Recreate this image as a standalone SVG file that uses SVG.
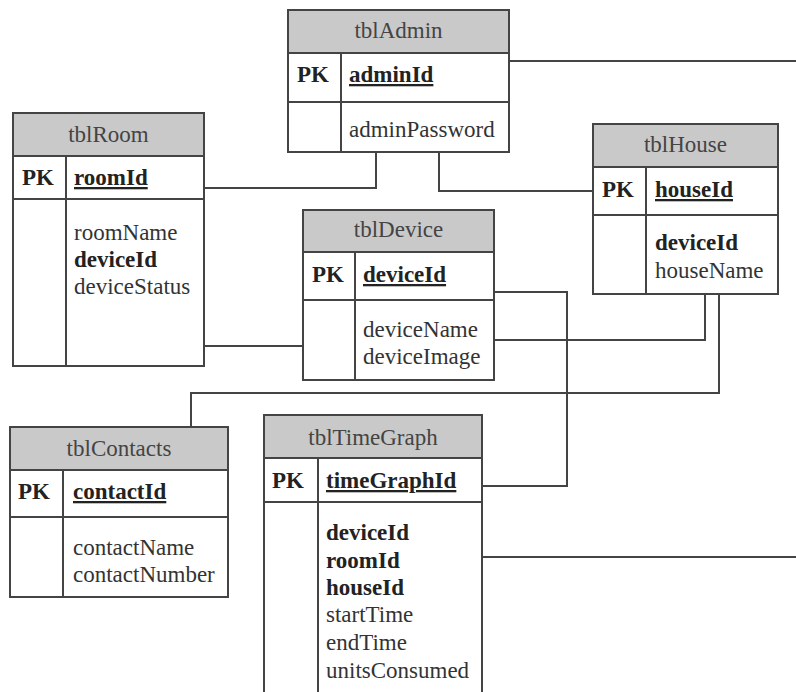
<svg xmlns="http://www.w3.org/2000/svg" width="796" height="692" viewBox="0 0 796 692">
<style>
.box{fill:#fff;stroke:#444;stroke-width:2}
.hdr{fill:#c9c9c9;stroke:#444;stroke-width:2}
.ln{stroke:#444;stroke-width:2;fill:none}
text{font-family:"Liberation Serif","Times New Roman",serif;font-size:23px;fill:#333}
.t{text-anchor:middle;fill:#444}
.b{font-weight:bold;fill:#222}
.u{font-weight:bold;fill:#222;text-decoration:underline}
</style>
<rect width="796" height="692" fill="#fff"/>
<g id="connectors">
<path class="ln" d="M503,61 H796"/>
<path class="ln" d="M376,152 V188 H204"/>
<path class="ln" d="M439,152 V191 H593"/>
<path class="ln" d="M204,346 H303"/>
<path class="ln" d="M494,292 H567 V486 H482"/>
<path class="ln" d="M705,294 V340 H494"/>
<path class="ln" d="M719,294 V393 H191 V427"/>
<path class="ln" d="M482,557 H796"/>
</g>
<g id="tblAdmin">
<rect class="box" x="288" y="10" width="221" height="142"/>
<rect class="hdr" x="288" y="10" width="221" height="43"/>
<path class="ln" d="M288,102 H509 M341,53 V152"/>
<text class="t" x="398.5" y="38">tblAdmin</text>
<text class="b" x="297" y="82">PK</text>
<text class="u" x="349" y="82">adminId</text>
<text x="349" y="137">adminPassword</text>
</g>
<g id="tblRoom">
<rect class="box" x="13" y="113" width="191" height="253"/>
<rect class="hdr" x="13" y="113" width="191" height="43"/>
<path class="ln" d="M13,199 H204 M66,156 V366"/>
<text class="t" x="108.5" y="142">tblRoom</text>
<text class="b" x="22" y="185">PK</text>
<text class="u" x="74" y="185">roomId</text>
<text x="74" y="240">roomName</text>
<text class="b" x="74" y="267">deviceId</text>
<text x="74" y="294">deviceStatus</text>
</g>
<g id="tblHouse">
<rect class="box" x="593" y="124" width="185" height="170"/>
<rect class="hdr" x="593" y="124" width="185" height="43"/>
<path class="ln" d="M593,215 H778 M646,167 V294"/>
<text class="t" x="685.5" y="152">tblHouse</text>
<text class="b" x="602" y="197">PK</text>
<text class="u" x="655" y="197">houseId</text>
<text class="b" x="655" y="250">deviceId</text>
<text x="655" y="278">houseName</text>
</g>
<g id="tblDevice">
<rect class="box" x="303" y="210" width="191" height="170"/>
<rect class="hdr" x="303" y="210" width="191" height="42"/>
<path class="ln" d="M303,300 H494 M355,252 V380"/>
<text class="t" x="398.5" y="237">tblDevice</text>
<text class="b" x="312" y="282">PK</text>
<text class="u" x="363" y="282">deviceId</text>
<text x="363" y="337">deviceName</text>
<text x="363" y="364">deviceImage</text>
</g>
<g id="tblContacts">
<rect class="box" x="10" y="427" width="218" height="170"/>
<rect class="hdr" x="10" y="427" width="218" height="43"/>
<path class="ln" d="M10,517 H228 M63,470 V597"/>
<text class="t" x="119" y="456">tblContacts</text>
<text class="b" x="18" y="499">PK</text>
<text class="u" x="73" y="499">contactId</text>
<text x="73" y="555">contactName</text>
<text x="73" y="582">contactNumber</text>
</g>
<g id="tblTimeGraph">
<rect class="box" x="264" y="415" width="218" height="290"/>
<rect class="hdr" x="264" y="415" width="218" height="43"/>
<path class="ln" d="M264,502 H482 M318,458 V705"/>
<text class="t" x="373" y="445">tblTimeGraph</text>
<text class="b" x="272" y="488">PK</text>
<text class="u" x="326" y="488">timeGraphId</text>
<text class="b" x="326" y="540">deviceId</text>
<text class="b" x="326" y="568">roomId</text>
<text class="b" x="326" y="595">houseId</text>
<text x="326" y="622">startTime</text>
<text x="326" y="650">endTime</text>
<text x="326" y="678">unitsConsumed</text>
</g>
</svg>
